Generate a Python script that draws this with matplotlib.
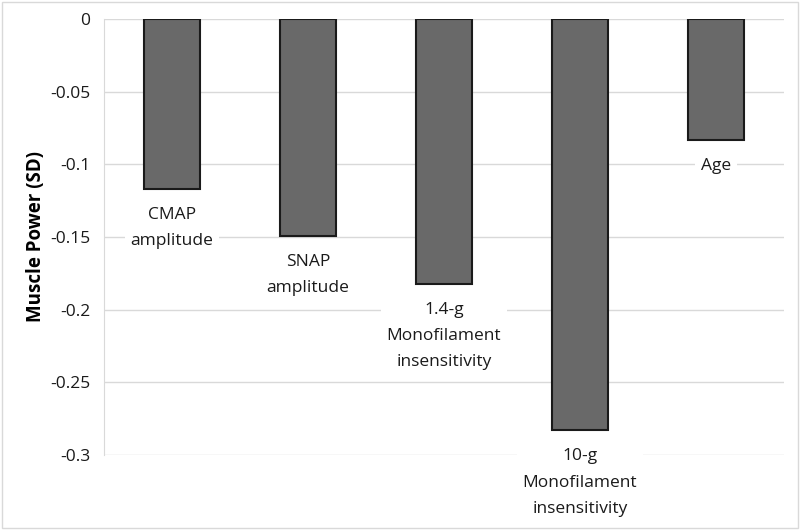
import numpy as np
import matplotlib
matplotlib.use("Agg")
import matplotlib.pyplot as plt

plt.rcParams['font.family'] = ['Open Sans', 'DejaVu Sans']

# data
labels = ["CMAP\namplitude", "SNAP\namplitude", "1.4-g\nMonofilament\ninsensitivity",
          "10-g\nMonofilament\ninsensitivity", "Age"]
values = [-0.117, -0.149, -0.182, -0.283, -0.083]
yticks = [0, -0.05, -0.1, -0.15, -0.2, -0.25, -0.3]
ytick_labels = ["0", "-0.05", "-0.1", "-0.15", "-0.2", "-0.25", "-0.3"]

fig = plt.figure(figsize=(8, 5.3), dpi=100)
ax = fig.add_axes([104/800, 75/530, 680/800, 436/530])

x = np.arange(len(values))
ax.bar(x, values, width=0.41, color='#696969', edgecolor='#1a1a1a', linewidth=1.5, zorder=3)

# labels under each bar, white box hides the gridlines
for xi, v, lab in zip(x, values, labels):
    ax.text(xi, v - 0.0125, lab, ha='center', va='top', fontsize=12.5, linespacing=1.85,
            color='#1a1a1a', zorder=4,
            bbox=dict(facecolor='white', edgecolor='none', pad=4))

ax.set_xlim(-0.5, len(values) - 0.5)
ax.set_ylim(-0.3, 0)
ax.set_yticks(yticks)
ax.set_yticklabels(ytick_labels, fontsize=12.5, color='#1a1a1a')
ax.set_xticks([])
ax.tick_params(axis='y', length=0, pad=10)
ax.grid(axis='y', color='#d9d9d9', linewidth=1, zorder=0)
ax.set_axisbelow(True)

for s in ['top', 'right', 'bottom']:
    ax.spines[s].set_visible(False)
ax.spines['left'].set_color('#d9d9d9')
ax.set_ylabel("Muscle Power (SD)", fontsize=13.5, fontweight='bold', labelpad=3)

# light chart border
fig.patches.append(plt.Rectangle((0.002, 0.003), 0.995, 0.994, transform=fig.transFigure,
                                 fill=False, edgecolor='#d9d9d9', linewidth=1))

fig.savefig("out.png", dpi=100)
